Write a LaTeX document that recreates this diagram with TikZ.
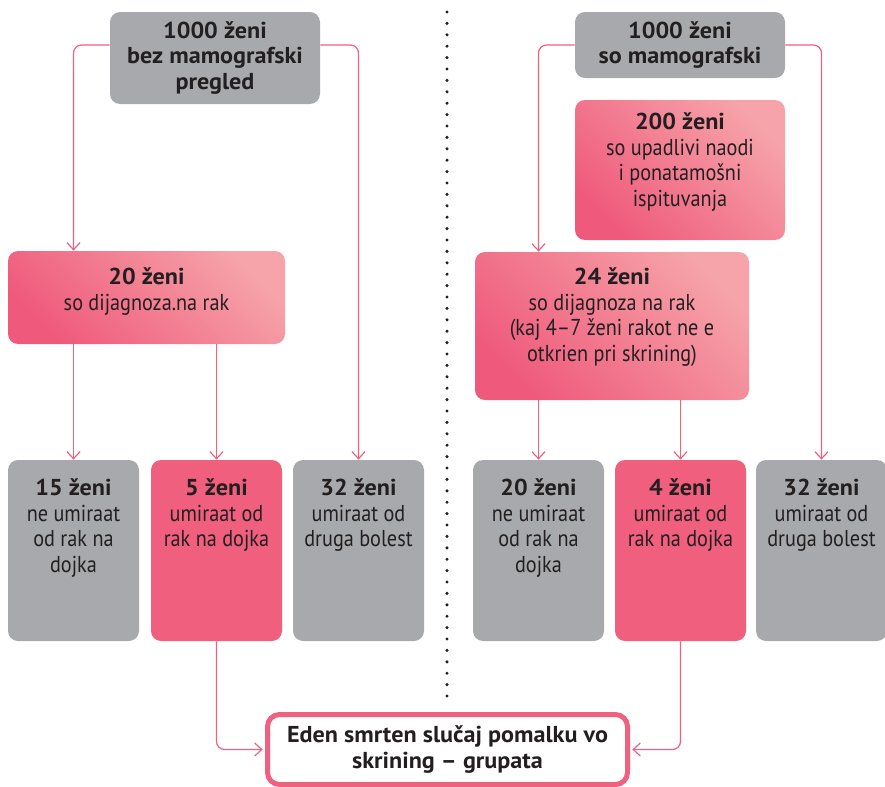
\documentclass[tikz,border=0pt]{standalone}
\usepackage{fontspec}
\setmainfont{PT Sans}[FakeStretch=0.88, BoldFeatures={FakeStretch=1.05}]
\usetikzlibrary{positioning,arrows.meta}
\definecolor{ink}{HTML}{231F20}
\definecolor{boxgray}{HTML}{A7A9AC}
\definecolor{pinksolid}{HTML}{F05F7E}
\definecolor{pinkdark}{HTML}{EF5A7C}
\definecolor{pinklight}{HTML}{F6A3A9}
\definecolor{linepink}{HTML}{F0607F}
\newcommand{\ftxt}{\fontsize{11.5}{12.7}\selectfont}
\tikzset{
	box/.style={rounded corners=5pt, inner sep=0pt, text=ink, align=center, font=\ftxt},
	graybox/.style={box, fill=boxgray},
	pinkbox/.style={box, fill=pinksolid},
	shadebox/.style={box, top color=pinklight, bottom color=pinkdark, shading angle=-45},
	colbox/.style={minimum width=65.5pt, minimum height=90.5pt},
	txt/.style={inner sep=0pt, align=center, text=ink, font=\ftxt},
	conn/.style={draw=linepink, line width=0.6pt, rounded corners=4pt, -{Straight Barb[length=3.5pt,width=6.5pt]}}
}
\begin{document}
\begin{tikzpicture}[x=0.5pt,y=-0.5pt]
	\useasboundingbox (0,0) rectangle (885,787);
	\node[graybox, minimum width=105pt, minimum height=46pt] at (215,58) (nomam) {\textbf{1000 ženi}\\\textbf{bez mamografski}\\\textbf{pregled}};
	\node[graybox, minimum width=105pt, minimum height=33pt] at (680,45) (mam) {\textbf{1000 ženi}\\\textbf{so mamografski}};
	\node[shadebox, minimum width=105pt, minimum height=70pt] at (680,170) (find) {};
	\node[txt, below=6.5pt of find.north] (findtxt) {\textbf{200 ženi}\\so upadlivi naodi\\i ponatamošni\\ispituvanja};
	\node[shadebox, minimum width=138.5pt, minimum height=46.5pt] at (146.5,297.5) (diagL) {};
	\node[txt, below=8.5pt of diagL.north] (diagLtxt) {\textbf{20 ženi}\\so dijagnoza.na rak};
	\node[shadebox, minimum width=137pt, minimum height=74pt] at (612,326) (diagR) {};
	\node[txt, below=8pt of diagR.north] (diagRtxt) {\textbf{24 ženi}\\so dijagnoza na rak\\(kaj 4–7 ženi rakot ne e\\otkrien pri skrining)};
	\node[graybox, colbox] at (73.5,550.5) (liveL) {};
	\node[pinkbox, colbox] at (216.5,550.5) (dieL) {};
	\node[graybox, colbox] at (358.5,550.5) (otherL) {};
	\node[graybox, colbox] at (538.5,550.5) (liveR) {};
	\node[pinkbox, colbox] at (680.5,550.5) (dieR) {};
	\node[graybox, colbox] at (821.5,550.5) (otherR) {};
	\node[txt, below=9.5pt of liveL.north] (liveLtxt) {\textbf{15 ženi}\\ne umiraat\\od rak na\\dojka};
	\node[txt, below=9.5pt of dieL.north] (dieLtxt) {\textbf{5 ženi}\\umiraat od\\rak na dojka};
	\node[txt, below=9.5pt of otherL.north] (otherLtxt) {\textbf{32 ženi}\\umiraat od\\druga bolest};
	\node[txt, below=9.5pt of liveR.north] (liveRtxt) {\textbf{20 ženi}\\ne umiraat\\od rak na\\dojka};
	\node[txt, below=9.5pt of dieR.north] (dieRtxt) {\textbf{4 ženi}\\umiraat od\\rak na dojka};
	\node[txt, below=9.5pt of otherR.north] (otherRtxt) {\textbf{32 ženi}\\umiraat od\\druga bolest};
	\node[box, draw=linepink, line width=2.5pt, fill=white, rounded corners=6pt, minimum width=180pt, minimum height=35pt] at (447.5,749.5) (diff) {\textbf{Eden smrten slučaj pomalku vo}\\\textbf{skrining – grupata}};
	\foreach \i in {0,...,60}
		\fill[ink] (447,12+11.4*\i) circle (0.85pt);
	\draw[conn] ([yshift=6.5pt]nomam.west) -| (liveL.north |- diagL.north);
	\draw[conn] ([yshift=6.5pt]nomam.east) -| (otherL.north);
	\draw[conn] (mam.west) -| (liveR.north |- diagR.north);
	\draw[conn] (mam.east) -| (otherR.north);
	\draw[conn] (diagL.south -| liveL.north) -- (liveL.north);
	\draw[conn] (diagL.south -| dieL.north) -- (dieL.north);
	\draw[conn] (diagR.south -| liveR.north) -- (liveR.north);
	\draw[conn] (diagR.south -| dieR.north) -- (dieR.north);
	\draw[conn, shorten >=1.2pt] (dieL.south) |- (diff.west);
	\draw[conn, shorten >=1.2pt] (dieR.south) |- (diff.east);
\end{tikzpicture}
\end{document}
